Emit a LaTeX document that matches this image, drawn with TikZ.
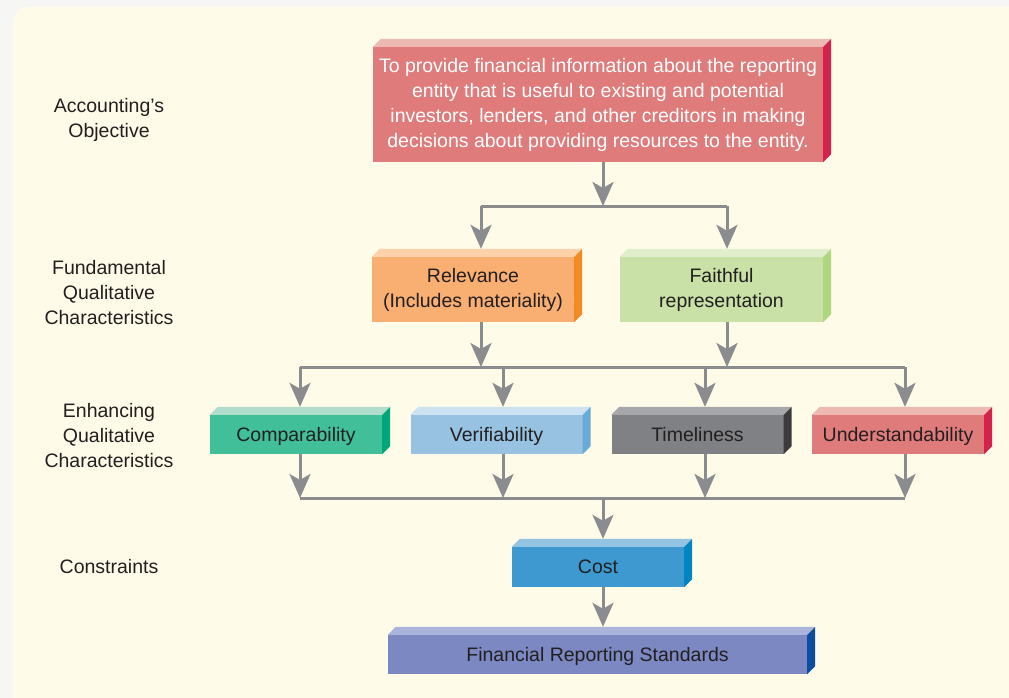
\documentclass[tikz,border=0pt]{standalone}
\usepackage{fontspec}
\setmainfont{Liberation Sans}
\usetikzlibrary{calc,arrows.meta}

\definecolor{pageBg}{HTML}{F6F6F4}
\definecolor{panelBg}{HTML}{FEFBE9}
\definecolor{inkDark}{HTML}{231F20}
\definecolor{arrGray}{HTML}{8B8C8F}
\definecolor{objFront}{HTML}{DF7C7B}
\definecolor{objTop}{HTML}{EDB9B2}
\definecolor{objSide}{HTML}{D4234A}
\definecolor{relFront}{HTML}{F9AE72}
\definecolor{relTop}{HTML}{FCD2AB}
\definecolor{relSide}{HTML}{F48A24}
\definecolor{faiFront}{HTML}{C9E1A6}
\definecolor{faiTop}{HTML}{E0EECC}
\definecolor{faiSide}{HTML}{B1D680}
\definecolor{comFront}{HTML}{40BF98}
\definecolor{comTop}{HTML}{B1DECC}
\definecolor{comSide}{HTML}{00A77A}
\definecolor{verFront}{HTML}{97C2E1}
\definecolor{verTop}{HTML}{CDE2F1}
\definecolor{verSide}{HTML}{6AAAD7}
\definecolor{timFront}{HTML}{7F8184}
\definecolor{timTop}{HTML}{A5A7AA}
\definecolor{timSide}{HTML}{3C3C3C}
\definecolor{cosFront}{HTML}{3D99CF}
\definecolor{cosTop}{HTML}{94C4E3}
\definecolor{cosSide}{HTML}{0085C2}
\definecolor{frsFront}{HTML}{7B88C2}
\definecolor{frsTop}{HTML}{ABB4DB}
\definecolor{frsSide}{HTML}{0C4DA2}

\begin{document}
\begin{tikzpicture}[x=1pt,y=-1pt,%%
  boxStyle/.style={inner sep=0pt,align=center,text=inkDark,
    font=\fontsize{19.5}{25}\selectfont},%%
  rowBox/.style={boxStyle,text height=16pt,text depth=3pt,
    minimum width=172pt,minimum height=39pt},%%
  sideLabel/.style={align=center,text=inkDark,
    font=\fontsize{19.5}{25}\selectfont},%%
  lineStyle/.style={-,draw=arrGray,line width=3pt},%%
  arrowStyle/.style={-{Stealth[length=24pt,width=21pt,inset=6pt]},
    draw=arrGray,line width=3pt}%%
]
%%
\pgfmathsetmacro{\dep}{8} %% depth of the box faces
%%
%% Page and panel.
\useasboundingbox (0,0) rectangle (1009,698);
\clip (0,0) rectangle (1009,698);
\fill[pageBg] (0,0) rectangle (1009,698);
\fill[panelBg,rounded corners=16pt] (13,7) rectangle (1030,720);
%%
%% Labels on the left.
\node[sideLabel] (lblObj) at (109,120) {Accounting’s\\Objective};
\node[sideLabel] (lblFund) at (109,293) {Fundamental\\Qualitative\\Characteristics};
\node[sideLabel] (lblEnh) at (109,436) {Enhancing\\Qualitative\\Characteristics};
\node[sideLabel] (lblCon) at (109,567) {Constraints};
%%
%% The boxes (front faces).
\node[boxStyle,fill=objFront,text=white,minimum width=450pt,minimum height=115pt]
  (obj) at (598,104.5) {To provide financial information about the reporting\\
  entity that is useful to existing and potential\\
  investors, lenders, and other creditors in making\\
  decisions about providing resources to the entity.};
\node[boxStyle,fill=relFront,minimum width=202pt,minimum height=65pt]
  (rel) at (473,289.5) {Relevance\\(Includes materiality)};
\node[boxStyle,fill=faiFront,minimum width=203pt,minimum height=65pt]
  (fai) at (721.5,289.5) {Faithful\\representation};
\node[rowBox,fill=comFront] (com) at (296,434.5) {Comparability};
\node[rowBox,fill=verFront] (ver) at (496.5,434.5) {Verifiability};
\node[rowBox,fill=timFront] (tim) at (697.5,434.5) {Timeliness};
\node[rowBox,fill=objFront] (und) at (898,434.5) {Understandability};
\node[rowBox,fill=cosFront,minimum height=40pt] (cos) at (598,567) {Cost};
\node[rowBox,fill=frsFront,minimum width=419pt]
  (frs) at (597.5,654.5) {Financial Reporting Standards};
%%
%% Top and side faces of every box.
\foreach \n/\tc/\sc in {obj/objTop/objSide,rel/relTop/relSide,fai/faiTop/faiSide,
  com/comTop/comSide,ver/verTop/verSide,tim/timTop/timSide,und/objTop/objSide,
  cos/cosTop/cosSide,frs/frsTop/frsSide}{
  \fill[\tc] (\n.north west) -- ++(\dep,-\dep)
    -- ($(\n.north east)+(\dep,-\dep)$) -- (\n.north east) -- cycle;
  \fill[\sc] (\n.north east) -- ++(\dep,-\dep)
    -- ($(\n.south east)+(\dep,-\dep)$) -- (\n.south east) -- cycle;
  \coordinate (\n-top) at ($(\n.north)+(0,-\dep)$);
}
%%
%% Junction points of the connectors.
\coordinate (splitA) at (603,206);
\coordinate (splitAl) at (481,206);
\coordinate (splitAr) at (727,206);
\coordinate (splitB1) at (300,367);
\coordinate (splitB2) at (503,367);
\coordinate (splitB3) at (705,367);
\coordinate (splitB4) at (905,367);
\coordinate (mergeC) at (603,498);
%%
%% Objective to the fundamental characteristics.
\draw[arrowStyle] (obj.south -| splitA) -- (splitA);
\draw[lineStyle] (splitAl) -- (splitAr);
\draw[arrowStyle] (splitAl) -- (splitAl |- rel-top);
\draw[arrowStyle] (splitAr) -- (splitAr |- fai-top);
%%
%% Fundamental to enhancing characteristics.
\draw[arrowStyle] (rel.south -| splitAl) -- (splitAl |- splitB1);
\draw[arrowStyle] (fai.south -| splitAr) -- (splitAr |- splitB1);
\draw[lineStyle] (splitB1) -- (splitB4);
\draw[arrowStyle] (splitB1) -- (splitB1 |- com-top);
\draw[arrowStyle] (splitB2) -- (splitB2 |- ver-top);
\draw[arrowStyle] (splitB3) -- (splitB3 |- tim-top);
\draw[arrowStyle] (splitB4) -- (splitB4 |- und-top);
%%
%% Enhancing characteristics to the constraint.
\draw[arrowStyle] (com.south -| splitB1) -- (splitB1 |- mergeC);
\draw[arrowStyle] (ver.south -| splitB2) -- (splitB2 |- mergeC);
\draw[arrowStyle] (tim.south -| splitB3) -- (splitB3 |- mergeC);
\draw[arrowStyle] (und.south -| splitB4) -- (splitB4 |- mergeC);
\draw[lineStyle] (splitB1 |- mergeC) -- (splitB4 |- mergeC);
\draw[arrowStyle] (mergeC) -- (mergeC |- cos-top);
%%
%% Constraint to the standards.
\draw[arrowStyle] (cos.south -| mergeC) -- (mergeC |- frs-top);
\end{tikzpicture}
\end{document}
